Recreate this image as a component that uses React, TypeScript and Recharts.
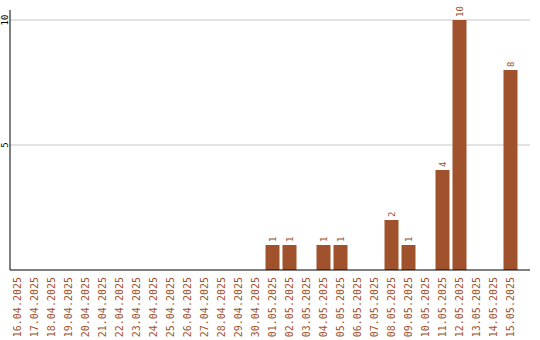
import React from 'react';
import { BarChart, Bar, XAxis, YAxis, CartesianGrid, LabelList } from 'recharts';

// Daily counts, 16.04.2025 – 15.05.2025
const dates = [
  '16.04.2025', '17.04.2025', '18.04.2025', '19.04.2025', '20.04.2025',
  '21.04.2025', '22.04.2025', '23.04.2025', '24.04.2025', '25.04.2025',
  '26.04.2025', '27.04.2025', '28.04.2025', '29.04.2025', '30.04.2025',
  '01.05.2025', '02.05.2025', '03.05.2025', '04.05.2025', '05.05.2025',
  '06.05.2025', '07.05.2025', '08.05.2025', '09.05.2025', '10.05.2025',
  '11.05.2025', '12.05.2025', '13.05.2025', '14.05.2025', '15.05.2025',
];

const counts = [
  0, 0, 0, 0, 0,
  0, 0, 0, 0, 0,
  0, 0, 0, 0, 0,
  1, 1, 0, 1, 1,
  0, 0, 2, 1, 0,
  4, 10, 0, 0, 8,
];

const yTicks = [5, 10];

const data = dates.map((date, i) => ({ date, count: counts[i] }));

const BROWN = '#a0522d';
const FONT = '"DejaVu Sans Mono", "Liberation Mono", monospace';

const XTick = (props: any) => {
  const { x, y, payload } = props;
  const ty = y + 7;
  return (
    <text
      x={x}
      y={ty}
      dy="0.35em"
      transform={`rotate(-90, ${x}, ${ty})`}
      textAnchor="end"
      fill={BROWN}
      fontSize={10}
      fontFamily={FONT}
    >
      {payload.value}
    </text>
  );
};

const YTick = (props: any) => {
  const { x, y, payload } = props;
  const tx = x - 5.5;
  return (
    <text
      x={tx}
      y={y}
      dy="0.35em"
      transform={`rotate(-90, ${tx}, ${y})`}
      textAnchor="middle"
      fill="#000"
      fontSize={9}
      fontFamily={FONT}
    >
      {payload.value}
    </text>
  );
};

const ValueLabel = (props: any) => {
  const { x, y, width, value } = props;
  if (!value) return null;
  const cx = x + width / 2;
  const ty = y - 3;
  return (
    <text
      x={cx}
      y={ty}
      dy="0.35em"
      transform={`rotate(-90, ${cx}, ${ty})`}
      textAnchor="start"
      fill={BROWN}
      fontSize={9}
      fontFamily={FONT}
    >
      {value}
    </text>
  );
};

// Grid lines only at the labelled y ticks
const gridRows = (props: any) => {
  const scale = props?.yAxis?.scale;
  if (typeof scale === 'function') return yTicks.map((t) => scale(t));
  if (scale && typeof scale.map === 'function') return yTicks.map((t) => scale.map(t));
  return [];
};

export default function App() {
  return (
    <div style={{ position: 'absolute', left: 0, top: 0, width: 540, height: 340, background: '#fff' }}>
      <BarChart
        width={540}
        height={340}
        data={data}
        margin={{ top: 10, right: 10, bottom: 0, left: 0 }}
      >
        <CartesianGrid vertical={false} stroke="#c8c8c8" horizontalCoordinatesGenerator={gridRows} />
        <XAxis
          dataKey="date"
          height={70}
          interval={0}
          tickLine={false}
          tickSize={0}
          tickMargin={0}
          axisLine={{ stroke: '#000' }}
          padding={{ left: -1.5, right: 11.5 }}
          tick={<XTick />}
        />
        <YAxis
          width={10}
          domain={[0, 10.4]}
          ticks={yTicks}
          tickLine={false}
          tickSize={0}
          tickMargin={0}
          axisLine={{ stroke: '#000' }}
          tick={<YTick />}
        />
        <Bar dataKey="count" fill={BROWN} barSize={14} isAnimationActive={false}>
          <LabelList dataKey="count" content={<ValueLabel />} />
        </Bar>
      </BarChart>
    </div>
  );
}
